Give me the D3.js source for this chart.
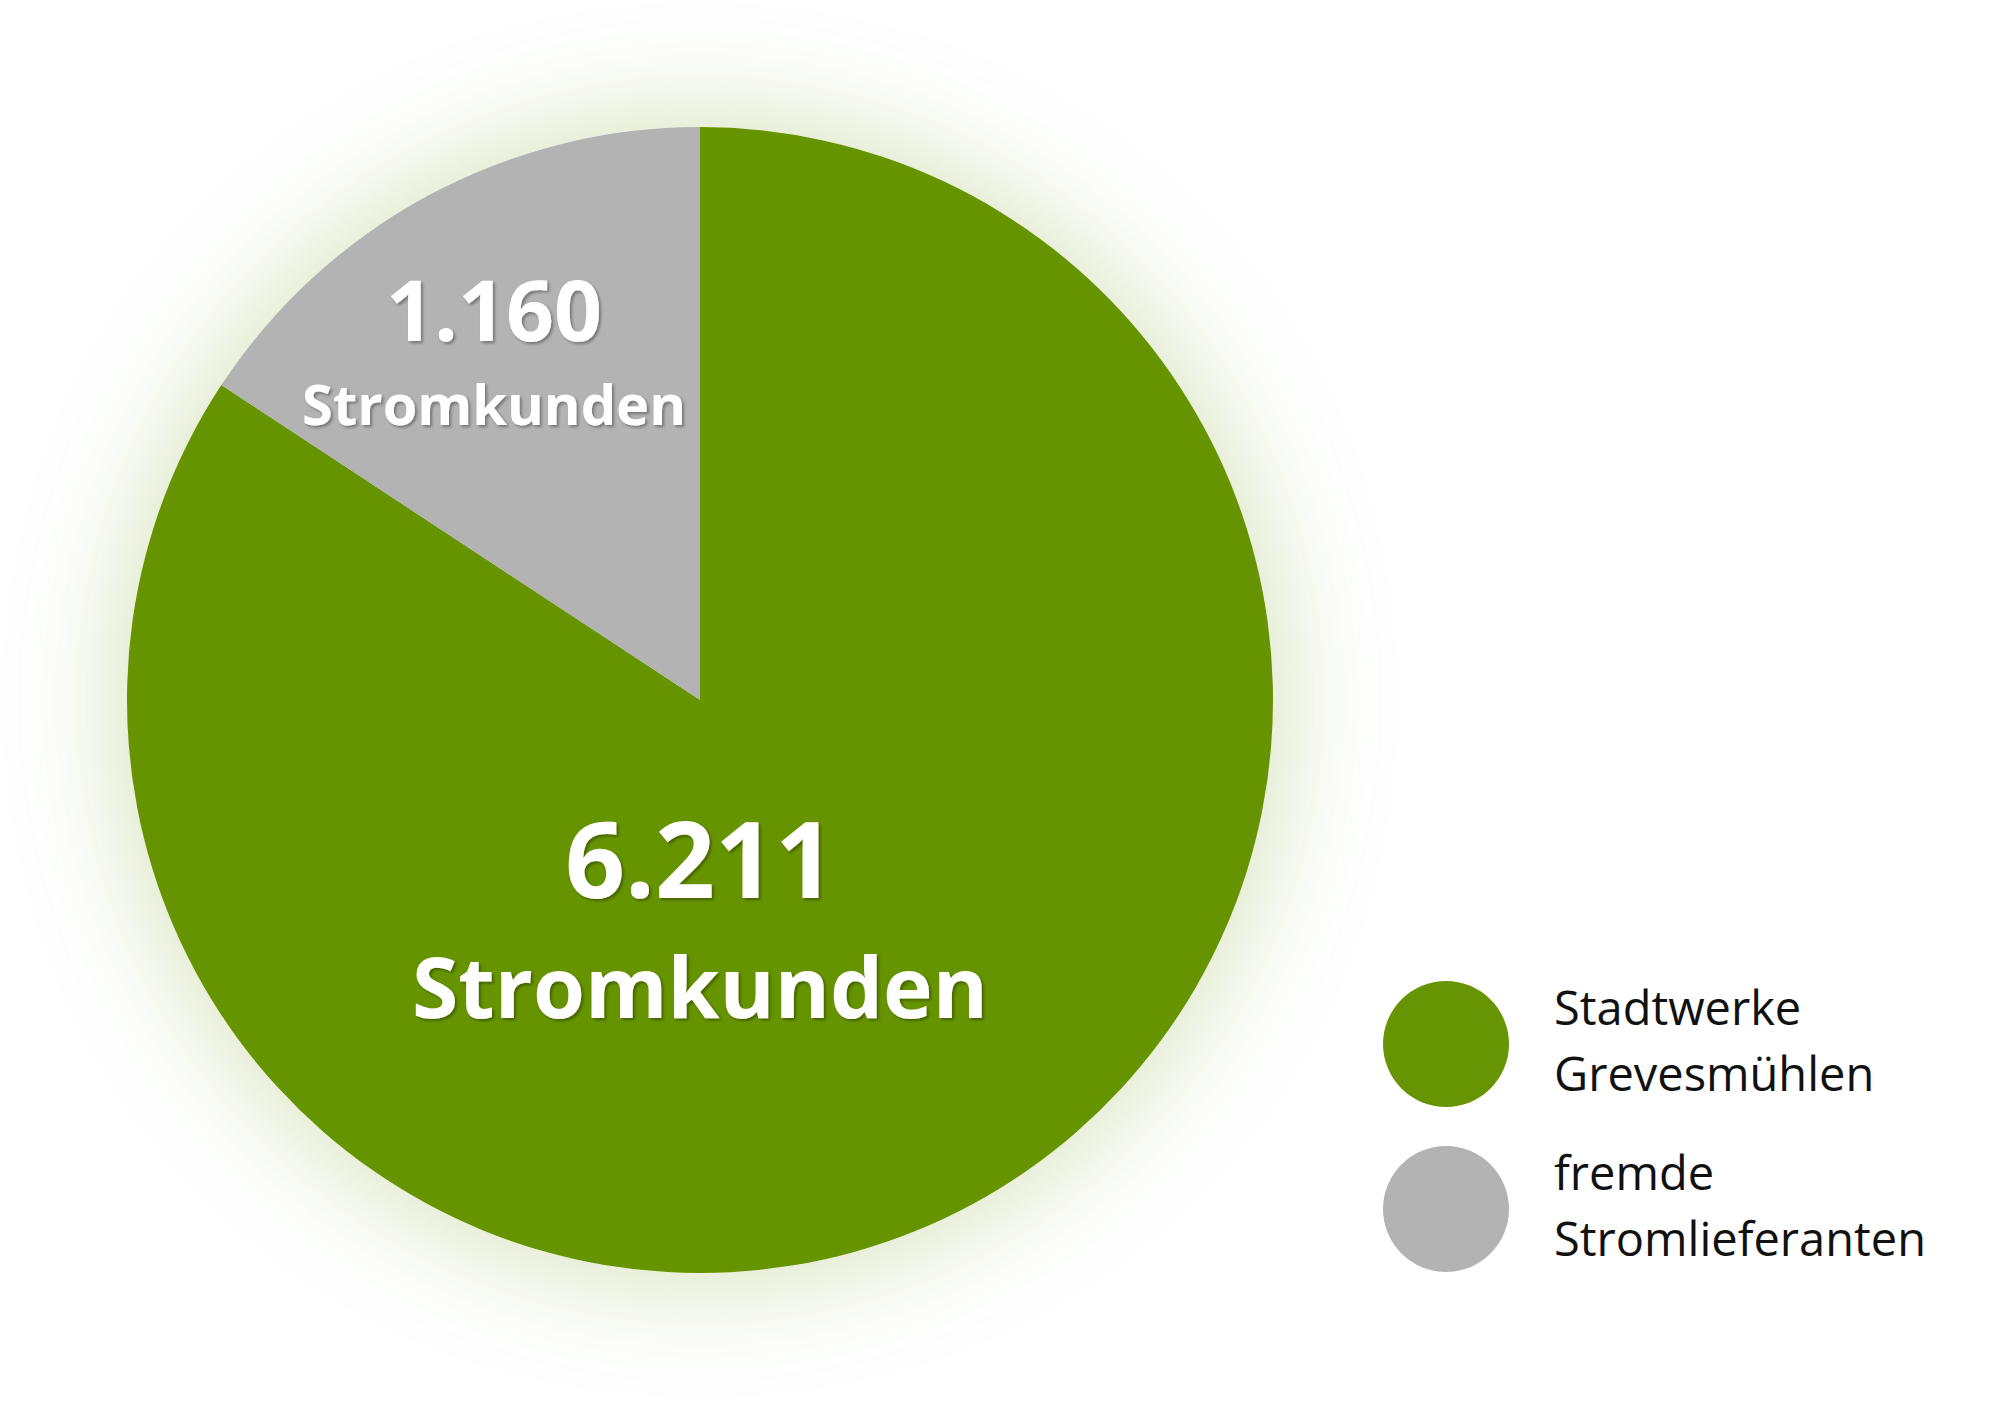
<!DOCTYPE html>
<html>
<head>
<meta charset="utf-8">
<script src="https://cdn.jsdelivr.net/npm/d3@7"></script>
<style>
  html, body { margin: 0; padding: 0; background: #fff; }
  svg { display: block; font-family: "Open Sans", sans-serif; }
</style>
</head>
<body>
<svg id="chart" width="2000" height="1414"></svg>
<script>
// data
var categories = ["Stadtwerke Grevesmühlen", "fremde Stromlieferanten"];
var legendLines = [["Stadtwerke", "Grevesmühlen"], ["fremde", "Stromlieferanten"]];
var customers = [6211, 1160];
var valueLabels = ["6.211", "1.160"];
var unitLabel = "Stromkunden";

var greenColor = "#669403",
    greyColor = "#b3b3b3";
var colors = d3.scaleOrdinal().domain(categories).range([greenColor, greyColor]);

var cx = 700, cy = 700, radius = 573;

var data = categories.map(function(c, i) {
    return {name: c, count: customers[i], label: valueLabels[i]};
});

var svg = d3.select("#chart");

var defs = svg.append("defs");
var glow = defs.append("filter").attr("id", "glow")
    .attr("x", "-50%").attr("y", "-50%").attr("width", "200%").attr("height", "200%");
glow.append("feDropShadow")
    .attr("dx", 0).attr("dy", 0).attr("stdDeviation", 58)
    .attr("flood-color", greenColor).attr("flood-opacity", 0.3);

var txtShadow = defs.append("filter").attr("id", "txtShadow")
    .attr("x", "-10%").attr("y", "-20%").attr("width", "120%").attr("height", "140%");
txtShadow.append("feDropShadow")
    .attr("dx", 2).attr("dy", 2).attr("stdDeviation", 1.5)
    .attr("flood-color", "#000").attr("flood-opacity", 0.35);

var pieArc = d3.arc()
    .outerRadius(radius)
    .innerRadius(0);

var pie = d3.pie()
    .sort(null)
    .value(function(d) { return d.count; });

var g = svg.append("g")
    .attr("transform", "translate(" + cx + "," + cy + ")");

var slices = g.append("g").attr("filter", "url(#glow)");
slices.selectAll(".arc")
    .data(pie(data))
    .enter().append("path")
    .attr("class", "arc")
    .attr("d", pieArc)
    .style("fill", function(d) { return colors(d.data.name); });

// label layout per slice: offset from centre, font sizes, baselines
var labelStyle = [
    {dx: 0,    numY: 198,  unitY: 318,  numSize: 105, unitSize: 84},
    {dx: -206, numY: -359, unitY: -275, numSize: 84,  unitSize: 56}
];

var labels = g.selectAll(".lbl")
    .data(pie(data))
    .enter().append("g")
    .attr("class", "lbl")
    .attr("filter", "url(#txtShadow)");

labels.append("text")
    .attr("x", function(d, i) { return labelStyle[i].dx; })
    .attr("y", function(d, i) { return labelStyle[i].numY; })
    .attr("text-anchor", "middle")
    .attr("font-weight", 700)
    .attr("font-size", function(d, i) { return labelStyle[i].numSize; })
    .attr("fill", "#fff")
    .text(function(d) { return d.data.label; });

labels.append("text")
    .attr("x", function(d, i) { return labelStyle[i].dx; })
    .attr("y", function(d, i) { return labelStyle[i].unitY; })
    .attr("text-anchor", "middle")
    .attr("font-weight", 700)
    .attr("font-size", function(d, i) { return labelStyle[i].unitSize; })
    .attr("fill", "#fff")
    .text(unitLabel);

// legend
var legendY = d3.scalePoint().domain(categories).range([1044, 1209]);

var legend = svg.append("g").selectAll(".legend")
    .data(categories)
    .enter().append("g")
    .attr("class", "legend")
    .attr("transform", function(d) { return "translate(1446," + legendY(d) + ")"; });

legend.append("circle")
    .attr("r", 63)
    .style("fill", function(d) { return colors(d); });

legend.append("text")
    .attr("font-size", 47)
    .attr("fill", "#111")
    .selectAll("tspan")
    .data(function(d, i) { return legendLines[i]; })
    .enter().append("tspan")
    .attr("x", 108)
    .attr("y", function(d, j) { return j === 0 ? -19 : 47; })
    .text(function(d) { return d; });
</script>
</body>
</html>
